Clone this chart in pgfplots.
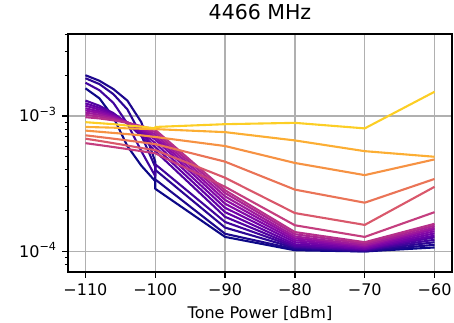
\documentclass[border=0pt]{standalone}
\usepackage{pgfplots}
\pgfplotsset{compat=1.18}
\usepackage{fontspec}
\setmainfont{DejaVu Sans}
\definecolor{c0}{RGB}{13,8,135}
\definecolor{c1}{RGB}{29,7,142}
\definecolor{c2}{RGB}{44,6,148}
\definecolor{c3}{RGB}{65,4,157}
\definecolor{p1}{RGB}{81,2,161}
\definecolor{p2}{RGB}{98,1,166}
\definecolor{p3}{RGB}{113,3,167}
\definecolor{p4}{RGB}{128,8,166}
\definecolor{p5}{RGB}{143,13,164}
\definecolor{p6}{RGB}{157,25,156}
\definecolor{p7}{RGB}{170,36,148}
\definecolor{p8}{RGB}{182,48,139}
\definecolor{cF}{RGB}{196,62,127}
\definecolor{cE}{RGB}{217,88,107}
\definecolor{cD}{RGB}{234,116,87}
\definecolor{cC}{RGB}{246,146,67}
\definecolor{cB}{RGB}{252,174,51}
\definecolor{cA}{RGB}{252,206,37}
\definecolor{gridc}{RGB}{176,176,176}
\begin{document}
\begin{tikzpicture}
\useasboundingbox (-68pt,-51pt) rectangle (386pt,272pt);
\begin{axis}[
  at={(0,0)}, anchor=south west,
  width=384pt, height=238pt, scale only axis,
  xmin=-112.5, xmax=-57.5,
  ymode=log, ymin=7.05e-5, ymax=4.03e-3,
  axis line style={line width=1.3pt},
  tick align=outside, xtick pos=left, ytick pos=left,
  major tick length=5.6pt, minor tick length=3.2pt,
  every major tick/.append style={line width=1.3pt, black},
  every minor tick/.append style={line width=1pt, black},
  xtick={-110,-100,-90,-80,-70,-60},
  xticklabels={−110,−100,−90,−80,−70,−60},
  ytick={1e-4,1e-3},
  yticklabels={10\textsuperscript{−4},10\textsuperscript{−3}},
  minor ytick={7e-5,8e-5,9e-5,2e-4,3e-4,4e-4,5e-4,6e-4,7e-4,8e-4,9e-4,2e-3,3e-3,4e-3},
  grid=major,
  major grid style={line width=1.3pt, color=gridc},
  tick label style={font=\fontsize{16}{19}\selectfont},
  xticklabel style={anchor=north, inner sep=0pt, yshift=-5.6pt},
  yticklabel style={anchor=base east, inner sep=0pt, xshift=-5.6pt, yshift=-5.8pt},
  xlabel={Tone Power [dBm]},
  xlabel style={at={(axis description cs:0.5,0)}, anchor=base, yshift=-46pt, font=\fontsize{16}{19}\selectfont},
  title={4466 MHz},
  title style={at={(axis description cs:0.5,1)}, anchor=base, yshift=9pt, font=\fontsize{20.5}{24}\selectfont},
  every axis plot/.append style={line width=2.1pt, line join=round, mark=none},
]
\addplot[c0] coordinates {(-110,1.6e-3)(-108,1.35e-3)(-106,9.8e-4)(-104,6.0e-4)(-102,4.3e-4)(-100,3.3e-4)(-100,2.9e-4)(-90,1.28e-4)(-80,1.02e-4)(-70,1.0e-4)(-60,1.07e-4)};
\addplot[c1] coordinates {(-110,2.0e-3)(-108,1.82e-3)(-106,1.58e-3)(-104,1.3e-3)(-102,9.0e-4)(-100,4.6e-4)(-100,3.4e-4)(-90,1.35e-4)(-80,1.04e-4)(-70,1.0e-4)(-60,1.12e-4)};
\addplot[c2] coordinates {(-110,1.9e-3)(-108,1.72e-3)(-106,1.45e-3)(-104,1.12e-3)(-102,7.2e-4)(-100,4.2e-4)(-100,4.0e-4)(-90,1.5e-4)(-80,1.06e-4)(-70,1.01e-4)(-60,1.17e-4)};
\addplot[c3] coordinates {(-110,1.76e-3)(-108,1.55e-3)(-106,1.25e-3)(-104,8.8e-4)(-102,5.5e-4)(-100,3.6e-4)(-100,4.4e-4)(-90,1.65e-4)(-80,1.08e-4)(-70,1.02e-4)(-60,1.22e-4)};
\addplot[p1] coordinates {(-110,1.30e-3)(-108,1.19e-3)(-106,1.05e-3)(-104,8.8e-4)(-102,7.1e-4)(-100,5.5e-4)(-100,5.5e-4)(-90,1.8e-4)(-80,1.10e-4)(-70,1.03e-4)(-60,1.27e-4)};
\addplot[p2] coordinates {(-110,1.24e-3)(-108,1.15e-3)(-106,1.03e-3)(-104,8.88e-4)(-102,7.37e-4)(-100,5.9e-4)(-100,5.9e-4)(-90,1.95e-4)(-80,1.13e-4)(-70,1.04e-4)(-60,1.31e-4)};
\addplot[p3] coordinates {(-110,1.19e-3)(-108,1.116e-3)(-106,1.015e-3)(-104,8.94e-4)(-102,7.63e-4)(-100,6.3e-4)(-100,6.3e-4)(-90,2.1e-4)(-80,1.17e-4)(-70,1.05e-4)(-60,1.36e-4)};
\addplot[p4] coordinates {(-110,1.14e-3)(-108,1.081e-3)(-106,9.99e-4)(-104,8.98e-4)(-102,7.87e-4)(-100,6.7e-4)(-100,6.7e-4)(-90,2.25e-4)(-80,1.21e-4)(-70,1.07e-4)(-60,1.41e-4)};
\addplot[p5] coordinates {(-110,1.10e-3)(-108,1.052e-3)(-106,9.82e-4)(-104,8.97e-4)(-102,8.02e-4)(-100,7.0e-4)(-100,7.0e-4)(-90,2.4e-4)(-80,1.25e-4)(-70,1.09e-4)(-60,1.46e-4)};
\addplot[p6] coordinates {(-110,1.06e-3)(-108,1.021e-3)(-106,9.66e-4)(-104,8.96e-4)(-102,8.16e-4)(-100,7.3e-4)(-100,7.3e-4)(-90,2.55e-4)(-80,1.29e-4)(-70,1.11e-4)(-60,1.50e-4)};
\addplot[p7] coordinates {(-110,1.02e-3)(-108,9.90e-4)(-106,9.48e-4)(-104,8.94e-4)(-102,8.30e-4)(-100,7.6e-4)(-100,7.6e-4)(-90,2.7e-4)(-80,1.34e-4)(-70,1.14e-4)(-60,1.55e-4)};
\addplot[p8] coordinates {(-110,9.8e-4)(-108,9.59e-4)(-106,9.29e-4)(-104,8.90e-4)(-102,8.43e-4)(-100,7.9e-4)(-100,7.9e-4)(-90,2.83e-4)(-80,1.39e-4)(-70,1.17e-4)(-60,1.60e-4)};
\addplot[cF] coordinates {(-110,6.3e-4)(-108,6.1e-4)(-106,5.9e-4)(-104,5.7e-4)(-102,5.5e-4)(-100,5.3e-4)(-100,5.3e-4)(-90,3.0e-4)(-80,1.56e-4)(-70,1.28e-4)(-60,1.95e-4)};
\addplot[cE] coordinates {(-110,6.8e-4)(-108,6.55e-4)(-106,6.3e-4)(-104,6.05e-4)(-102,5.8e-4)(-100,5.6e-4)(-100,5.6e-4)(-90,3.5e-4)(-80,1.92e-4)(-70,1.57e-4)(-60,3.0e-4)};
\addplot[cD] coordinates {(-110,7.2e-4)(-108,7.0e-4)(-106,6.8e-4)(-104,6.6e-4)(-102,6.4e-4)(-100,6.2e-4)(-100,6.2e-4)(-90,4.6e-4)(-80,2.86e-4)(-70,2.29e-4)(-60,3.43e-4)};
\addplot[cC] coordinates {(-110,7.8e-4)(-108,7.65e-4)(-106,7.5e-4)(-104,7.35e-4)(-102,7.2e-4)(-100,7.0e-4)(-100,7.0e-4)(-90,6.0e-4)(-80,4.5e-4)(-70,3.66e-4)(-60,4.78e-4)};
\addplot[cB] coordinates {(-110,8.3e-4)(-108,8.25e-4)(-106,8.2e-4)(-104,8.1e-4)(-102,8.05e-4)(-100,8.0e-4)(-100,8.0e-4)(-90,7.6e-4)(-80,6.6e-4)(-70,5.5e-4)(-60,5.0e-4)};
\addplot[cA] coordinates {(-110,9.0e-4)(-108,8.85e-4)(-106,8.7e-4)(-104,8.5e-4)(-102,8.35e-4)(-100,8.1e-4)(-100,8.3e-4)(-90,8.7e-4)(-80,8.9e-4)(-70,8.1e-4)(-60,1.51e-3)};
\end{axis}
\end{tikzpicture}
\end{document}
